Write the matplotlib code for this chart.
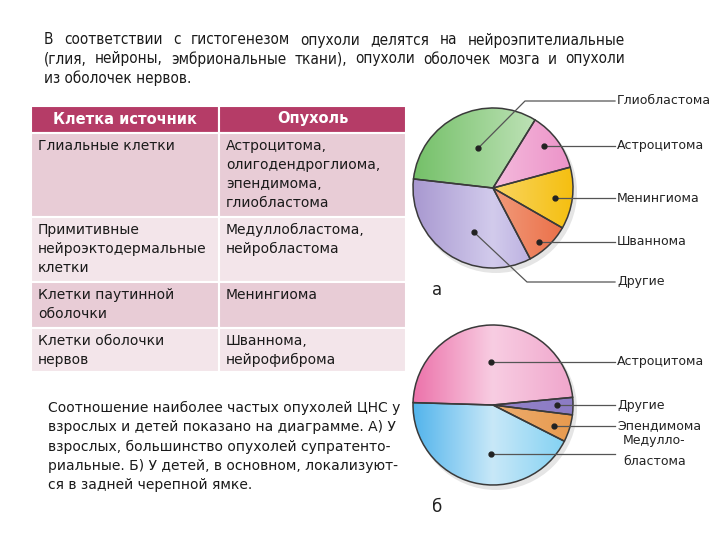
import matplotlib.pyplot as plt
import numpy as np
from matplotlib.patches import Rectangle, Circle
from matplotlib.colors import LinearSegmentedColormap

# DATA
intro_lines = [
    "В соответствии с гистогенезом опухоли делятся на нейроэпителиальные",
    "(глия, нейроны, эмбриональные ткани), опухоли оболочек мозга и опухоли",
    "из оболочек нервов.",
]
table_header = ["Клетка источник", "Опухоль"]
table_source = ["Глиальные клетки",
                "Примитивные\nнейроэктодермальные\nклетки",
                "Клетки паутинной\nоболочки",
                "Клетки оболочки\nнервов"]
table_tumor = ["Астроцитома,\nолигодендроглиома,\nэпендимома,\nглиобластома",
               "Медуллобластома,\nнейробластома",
               "Менингиома",
               "Шваннома,\nнейрофиброма"]
note_lines = [
    "Соотношение наиболее частых опухолей ЦНС у",
    "взрослых и детей показано на диаграмме. А) У",
    "взрослых, большинство опухолей супратенто-",
    "риальные. Б) У детей, в основном, локализуют-",
    "ся в задней черепной ямке.",
]

adult_labels = ["Глиобластома", "Астроцитома", "Менингиома", "Шваннома", "Другие"]
adult_share = [32, 12, 12.5, 9, 34.5]
child_labels = ["Астроцитома", "Другие", "Эпендимома", "Медулло-\nбластома"]
child_share = [48, 3.5, 5.5, 43]

# STYLE
adult_grad = [["#74c068", "#d4ecce"], ["#fce2f0", "#ec92c8"], ["#fcecb4", "#f5bf10"],
              ["#f9ccb4", "#ea6a42"], ["#a898d0", "#d2cbec", "#a494d4"]]
child_grad = [["#ec72aa", "#f8cde2", "#f0a6cc"], ["#9a88cc", "#8c7cc4"],
              ["#f2c090", "#e89a4e"], ["#52b4ec", "#c8e8f8", "#7ccff2"]]

fig = plt.figure(figsize=(7.2, 5.4), dpi=100)
main = fig.add_axes([0, 0, 1, 1], zorder=2)
main.set_xlim(0, 720)
main.set_ylim(540, 0)
main.axis("off")
main.patch.set_alpha(0)


def justify(text, x0, x1, y, **kw):
    words = text.split(" ")
    r = fig.canvas.get_renderer()
    arts = [main.text(0, y, w, va="center", **kw) for w in words]
    inv = main.transData.inverted()
    widths = []
    for a in arts:
        bb = a.get_window_extent(r)
        p0 = inv.transform((bb.x0, bb.y0))
        p1 = inv.transform((bb.x1, bb.y0))
        widths.append(p1[0] - p0[0])
    gap = (x1 - x0 - sum(widths)) / (len(words) - 1)
    x = x0
    for a, w in zip(arts, widths):
        a.set_x(x)
        x += w + gap


txt_kw = dict(fontsize=11, color="#1a1a1a", fontstretch="condensed", family="DejaVu Sans")
justify(intro_lines[0], 44, 625, 40, **txt_kw)
justify(intro_lines[1], 44, 625, 59, **txt_kw)
main.text(44, 78, intro_lines[2], va="center", **txt_kw)

# TABLE
tx0, tsplit, tx1 = 31, 219, 406
row_edges = [106, 133, 217, 282, 328, 372]
row_colors = ["#b53c67", "#e8ccd6", "#f3e5ea", "#e8ccd6", "#f3e5ea"]
for i in range(5):
    y0, y1 = row_edges[i], row_edges[i + 1]
    for xa, xb in [(tx0, tsplit), (tsplit, tx1)]:
        main.add_patch(Rectangle((xa, y0), xb - xa, y1 - y0, facecolor=row_colors[i],
                                 edgecolor="white", lw=1.5))
main.text((tx0 + tsplit) / 2, 119, table_header[0], ha="center", va="center",
          color="white", fontsize=10.5, fontweight="bold")
main.text((tsplit + tx1) / 2, 119, table_header[1], ha="center", va="center",
          color="white", fontsize=10.5, fontweight="bold")
for i in range(4):
    ytop = row_edges[i + 1] + 6
    main.text(38, ytop, table_source[i], va="top", fontsize=10, color="#1a1a1a",
              linespacing=1.45)
    main.text(226, ytop, table_tumor[i], va="top", fontsize=10, color="#1a1a1a",
              linespacing=1.45)

for k, line in enumerate(note_lines):
    main.text(48, 408 + k * 19.3, line, va="center", fontsize=10, color="#1a1a1a")


# PIES
def draw_pie(cx, cy, shares, grads, labels, start, dots, elbow, tag):
    R = 80
    pax = fig.add_axes([(cx - 100) / 720, (540 - cy - 100) / 540, 200 / 720, 200 / 540], zorder=1)
    # soft shadow under the pie
    pax.add_patch(Circle((0.03, -0.04), 0.81, facecolor="#000000", alpha=0.10,
                         edgecolor="none", zorder=0.1))
    wedges, _ = pax.pie(shares, radius=0.8, startangle=start, counterclock=False,
                        colors=[g[0] for g in grads],
                        wedgeprops=dict(edgecolor="#3a3a3a", linewidth=1.1))
    for w, g in zip(wedges, grads):
        cmap = LinearSegmentedColormap.from_list("g", g)
        grad = np.linspace(0, 1, 256).reshape(1, -1)
        im = pax.imshow(grad, cmap=cmap, extent=(-0.8, 0.8, -0.8, 0.8), aspect="auto",
                        zorder=0.5)
        im.set_clip_path(w)
        w.set_facecolor("none")
        w.set_zorder(1)
    pax.set_xlim(-1, 1)
    pax.set_ylim(-1, 1)
    pax.set_aspect("equal")
    pax.axis("off")
    for w, (fa, fr), el, lab in zip(wedges, dots, elbow, labels):
        ang = np.deg2rad(w.theta1 + fa * (w.theta2 - w.theta1))
        dx = cx + fr * R * np.cos(ang)
        dy = cy - fr * R * np.sin(ang)
        main.plot(dx, dy, "o", color="#222222", ms=3.5, zorder=5)
        if el is None:
            ly = dy
            main.plot([dx, 615], [dy, ly], color="#555555", lw=0.9, zorder=4)
        else:
            ly = el[1]
            main.plot([dx, el[0], 615], [dy, ly, ly], color="#555555", lw=0.9, zorder=4)
        if "\n" in lab:
            main.text(623, ly - 3, lab, va="center", fontsize=9, color="#222222", linespacing=1.75)
        else:
            main.text(617, ly, lab, va="center", fontsize=9, color="#222222")
    main.text(437, cy + 102, tag, ha="center", va="center", fontsize=12, color="#222222")


draw_pie(493, 188, adult_share, adult_grad, adult_labels, 173.5,
         [(0.455, 0.53), (0.57, 0.83), (0.45, 0.78), (0.39, 0.88), (0.586, 0.6)],
         [(525, 101), None, None, None, (527, 282)], "а")
draw_pie(493, 405, child_share, child_grad, child_labels, 178.3,
         [(0.506, 0.54), (0.53, 0.8), (0.4, 0.81), (0.576, 0.61)],
         [None, None, None, None], "б")

fig.savefig("out.png", dpi=100, facecolor="white")
